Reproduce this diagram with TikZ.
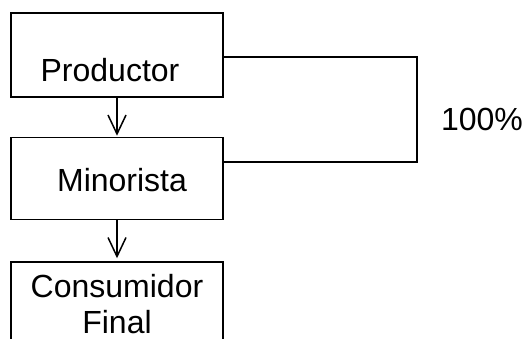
\documentclass[tikz,border=0pt]{standalone}
\usepackage{fontspec}
\setmainfont{Liberation Sans}
\usetikzlibrary{arrows.meta}
\begin{document}
\begin{tikzpicture}[x=1pt,y=-1pt,
  box/.style={draw=black, line width=1.5pt, rectangle, inner sep=0pt, fill=none},
  lbl/.style={font=\fontsize{32}{36}\selectfont, inner sep=0pt, anchor=base, align=center},
  conn/.style={draw=black, line width=1.5pt},
  arr/.style={conn, -{Straight Barb[length=19pt,width=18pt,line width=1.5pt]}}]
\useasboundingbox (0,0) rectangle (524,339);
\clip (0,0) rectangle (524,339);
\fill[white] (0,0) rectangle (524,339);
% boxes
\node[box, minimum width=212pt, minimum height=84pt] (prod) at (117,55) {};
\node[box, minimum width=212pt, minimum height=82pt] (mino) at (117,178.5) {};
\node[box, minimum width=212pt, minimum height=100pt] (cons) at (117,312) {};
% labels
\node[lbl] (tprod) at (110,82) {Productor};
\node[lbl] (tmino) at (122,191) {Minorista};
\node[lbl] (tcons) at (117,297) {Consumidor};
\node[lbl] (tfin) at (117,333) {Final};
\node[lbl] (pct) at (482,131) {100\%};
% arrows
\draw[arr] (prod.south) -- ([yshift=1pt]mino.north);
\draw[arr] (mino.south) -- ([yshift=3pt]cons.north);
% loop
\coordinate (lt) at (417,57);
\coordinate (lb) at (417,162);
\draw[conn, line join=miter] (prod.east |- lt) -- (lt) -- (lb) -- (mino.east |- lb);
\end{tikzpicture}
\end{document}
